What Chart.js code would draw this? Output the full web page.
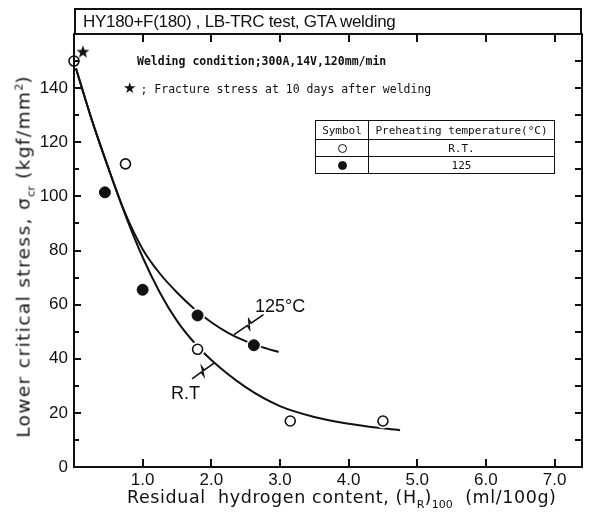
<!DOCTYPE html>
<html lang="en">
<head>
<meta charset="UTF-8">
<title>lower critical stress vs residual hydrogen</title>
<script src="https://cdn.jsdelivr.net/npm/chart.js@4/dist/chart.umd.min.js"></script>
<style>
	body { margin:0; background:#fff; }
	#wrap { position:relative; width:593px; height:518px; }
	.t { position:absolute; white-space:nowrap; color:#111; }
	#title { left:74px; top:8px; width:508px; height:27px; box-sizing:border-box; border:2px solid #111;
		font:17px "Liberation Sans", sans-serif; letter-spacing:-0.3px; line-height:23px; padding-left:7px; }
	.mono { font-family:"DejaVu Sans Mono", monospace; }
	#cond { left:137px; top:54px; font-size:11.5px; font-weight:bold; }
	#frac { left:123px; top:79px; font-size:11.5px; }
	#frac .star { font:15px "DejaVu Sans", sans-serif; margin-right:4px; }
	#legend { position:absolute; left:315px; top:120px; width:239px; table-layout:fixed; border-collapse:collapse;
		font:11px "DejaVu Sans Mono", monospace; color:#111; }
	#legend td { border:1.5px solid #111; padding:0 2px; height:16px; text-align:center; white-space:nowrap; overflow:hidden; }
	#legend tr:first-child td { height:18px; }
	.dot { display:inline-block; width:9px; height:9px; border-radius:50%; border:1.5px solid #111; box-sizing:border-box; vertical-align:middle; }
	.dot.f { background:#111; }
	#ytitle { left:-185px; top:244px; width:420px; text-align:center; transform:rotate(-90deg);
		font:18.5px "DejaVu Sans", sans-serif; letter-spacing:1.4px; }
	#xtitle { left:127px; top:487px; font:17.5px "DejaVu Sans", sans-serif; letter-spacing:0.6px; }
	sub, sup { font-size:11px; letter-spacing:0; }
	.lbl { font:18px "Liberation Sans", sans-serif; }
</style>
</head>
<body>
<div id="wrap">
	<canvas id="c" width="593" height="518"></canvas>
	<div class="t" id="title">HY180+F(180) , LB-TRC test, GTA welding</div>
	<div class="t mono" id="cond">Welding condition;300A,14V,120mm/min</div>
	<div class="t mono" id="frac"><span class="star">★</span>;  Fracture stress at 10 days after welding</div>
	<table id="legend">
		<colgroup><col style="width:53px"><col style="width:186px"></colgroup>
		<tr><td>Symbol</td><td>Preheating temperature(°C)</td></tr>
		<tr><td><span class="dot"></span></td><td>R.T.</td></tr>
		<tr><td><span class="dot f"></span></td><td>125</td></tr>
	</table>
	<div class="t" id="ytitle">Lower critical stress, σ<sub>cr</sub> (kgf/mm<sup>2</sup>)</div>
	<div class="t" id="xtitle">Residual&nbsp; hydrogen content, (H<sub>R</sub>)<sub>100</sub>&nbsp; (ml/100g)</div>
	<div class="t lbl" style="left:255px;top:296px">125°C</div>
	<div class="t lbl" style="left:171px;top:383px">R.T</div>
</div>

<script>

	// measured points, room temperature (open circles)
	var rtX=[0, 0.75, 1.8, 3.15, 4.5];
	var rtY=[150, 112, 43.5, 17, 17];

	// measured points, preheated 125 C (filled circles)
	var hotX=[0.45, 1.0, 1.8, 2.62];
	var hotY=[101.5, 65.5, 56, 45];

	// fracture stress 10 days after welding
	var starX=[0.13];
	var starY=[153.5];

	// hand drawn trend curves
	var rtCurveX=[0.02, 0.25, 0.5, 0.75, 1.0, 1.25, 1.5, 1.75, 2.0, 2.5, 3.0, 3.5, 4.0, 4.5, 4.75];
	var rtCurveY=[148, 129, 110.5, 93, 77.5, 64.5, 54, 46, 39.5, 29.5, 22.5, 18.5, 16, 14.3, 13.6];
	var hotCurveX=[0.02, 0.25, 0.5, 0.75, 1.0, 1.25, 1.5, 1.75, 2.0, 2.25, 2.5, 2.75, 2.98];
	var hotCurveY=[148, 129, 110.5, 93.5, 80.5, 71.5, 64.5, 58.5, 53.5, 49.5, 46.5, 44.2, 42.5];

	// leader lines from curve to its label (x0,y0,x1,y1)
	var leaders=[[2.33, 48.9, 2.76, 56.3], [2.04, 38.4, 1.72, 32.6]];

	var xTicks=[1, 2, 3, 4, 5, 6, 7];
	var yTicks=[0, 20, 40, 60, 80, 100, 120, 140];
	var yMinor=[10, 20, 30, 40, 50, 60, 70, 80, 90, 100, 110, 120, 130, 140, 150];

	var INK="#111";

	function pts(xs,ys){
		return xs.map(function(x,i){ return {x:x, y:ys[i]}; });
	}

	// filled five point star for the point style
	var starImg=document.createElement("canvas");
	starImg.width=14; starImg.height=14;
	(function(){
		var g=starImg.getContext("2d");
		g.fillStyle=INK;
		g.beginPath();
		for(var i=0;i<10;i++){
			var r=i%2 ? 2.8 : 6.8,
				a=-Math.PI/2 + i*Math.PI/5;
			g.lineTo(7+r*Math.cos(a), 7.5+r*Math.sin(a));
		}
		g.closePath();
		g.fill();
	})();

	// frame, inward ticks and leader zigzags
	var frame={
		id:"frame",
		afterDraw:function(chart){
			var ctx=chart.ctx, a=chart.chartArea,
				xs=chart.scales.x, ys=chart.scales.y;
			ctx.save();
			ctx.strokeStyle=INK;
			ctx.lineWidth=2;
			ctx.strokeRect(a.left, a.top, a.right-a.left, a.bottom-a.top);
			ctx.beginPath();
			xTicks.forEach(function(v){
				var px=Math.round(xs.getPixelForValue(v));
				ctx.moveTo(px, a.bottom); ctx.lineTo(px, a.bottom-8);
				ctx.moveTo(px, a.top); ctx.lineTo(px, a.top+8);
			});
			yMinor.forEach(function(v){
				var py=Math.round(ys.getPixelForValue(v));
				ctx.moveTo(a.left, py); ctx.lineTo(a.left+(v%20 ? 5 : 7), py);
				ctx.moveTo(a.right, py); ctx.lineTo(a.right-7, py);
			});
			ctx.stroke();

			ctx.lineWidth=1.6;
			leaders.forEach(function(l){
				var x0=xs.getPixelForValue(l[0]), y0=ys.getPixelForValue(l[1]),
					x1=xs.getPixelForValue(l[2]), y1=ys.getPixelForValue(l[3]),
					dx=x1-x0, dy=y1-y0, len=Math.sqrt(dx*dx+dy*dy),
					nx=-dy/len*4, ny=dx/len*4;
				var p1=[x0+dx*0.45, y0+dy*0.45], p2=[x0+dx*0.58, y0+dy*0.58];
				ctx.beginPath();
				ctx.moveTo(x0,y0);
				ctx.lineTo(p1[0],p1[1]);
				ctx.lineTo(p1[0]+nx,p1[1]+ny);
				ctx.lineTo(p2[0]-nx,p2[1]-ny);
				ctx.lineTo(p2[0],p2[1]);
				ctx.lineTo(x1,y1);
				ctx.stroke();
			});
			ctx.restore();
		}
	};

	var tickFont={family:"Liberation Sans", size:17};

	new Chart(document.getElementById("c"),{
		type:"scatter",
		data:{
			datasets:[
				{
					data:pts(rtCurveX,rtCurveY),
					showLine:true, pointRadius:0, borderColor:INK, borderWidth:2,
					cubicInterpolationMode:"monotone", order:5
				},
				{
					data:pts(hotCurveX,hotCurveY),
					showLine:true, pointRadius:0, borderColor:INK, borderWidth:2,
					cubicInterpolationMode:"monotone", order:5
				},
				{
					// white gap round every marker
					data:pts(rtX.concat(hotX),rtY.concat(hotY)),
					pointRadius:7.5, pointBackgroundColor:"#fff", pointBorderWidth:0, order:4, clip:false
				},
				{
					data:pts(rtX,rtY),
					pointRadius:5, pointBackgroundColor:"#fff", pointBorderColor:INK, pointBorderWidth:1.6, order:1, clip:false
				},
				{
					data:pts(hotX,hotY),
					pointRadius:5.5, pointBackgroundColor:INK, pointBorderColor:INK, pointBorderWidth:1, order:1, clip:false
				},
				{
					data:pts(starX,starY),
					pointStyle:starImg, order:1, clip:false
				}
			]
		},
		options:{
			responsive:false,
			animation:false,
			events:[],
			layout:{padding:{left:0, top:34, right:11, bottom:0}},
			plugins:{legend:{display:false}, tooltip:{enabled:false}},
			scales:{
				x:{
					type:"linear", min:0, max:7.4,
					grid:{display:false, drawTicks:false}, border:{display:false},
					afterBuildTicks:function(s){ s.ticks=xTicks.map(function(v){ return {value:v}; }); },
					afterFit:function(s){ s.height=51; },
					ticks:{
						font:tickFont, color:INK, padding:3, maxRotation:0, autoSkip:false,
						callback:function(v){ return v.toFixed(1); }
					}
				},
				y:{
					type:"linear", min:0, max:160,
					grid:{display:false, drawTicks:false}, border:{display:false},
					afterBuildTicks:function(s){ s.ticks=yTicks.map(function(v){ return {value:v}; }); },
					afterFit:function(s){ s.width=74; },
					ticks:{font:tickFont, color:INK, padding:6, autoSkip:false}
				}
			}
		},
		plugins:[frame]
	});

</script>
</body>
</html>
